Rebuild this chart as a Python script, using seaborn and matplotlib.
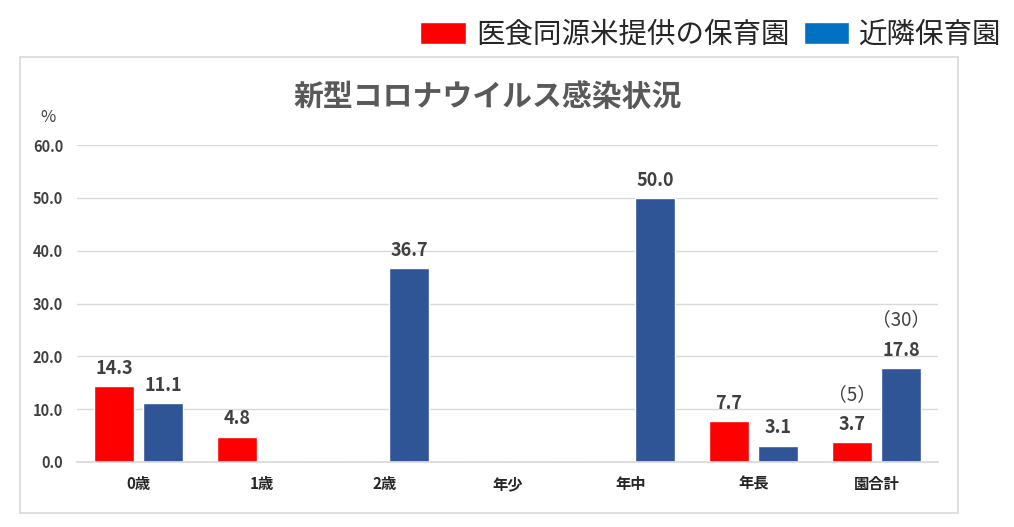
import numpy as np
import pandas as pd
import seaborn as sns
import matplotlib.pyplot as plt
from matplotlib.patches import Patch, Rectangle

# データ
categories = ['0歳', '1歳', '2歳', '年少', '年中', '年長', '園合計']
series_names = ['医食同源米提供の保育園', '近隣保育園']
ishoku = [14.3, 4.8, 0, 0, 0, 7.7, 3.7]
kinrin = [11.1, 0, 36.7, 0, 50.0, 3.1, 17.8]
ishoku_lbl = ['14.3', '4.8', '', '', '', '7.7', '3.7']
kinrin_lbl = ['11.1', '', '36.7', '', '50.0', '3.1', '17.8']
counts = {0: '（5）', 1: '（30）'}  # 園合計の上の人数
y_ticks = [0, 10, 20, 30, 40, 50, 60]

sns.set_theme(style='white')
plt.rcParams['font.family'] = ['Noto Sans CJK JP', 'DejaVu Sans']

df = pd.DataFrame({
    'cat': categories * 2,
    'val': ishoku + kinrin,
    'grp': [series_names[0]] * 7 + [series_names[1]] * 7,
})

fig = plt.figure(figsize=(10.14, 5.27), dpi=100)
ax = fig.add_axes([77 / 1014, 1 - 462 / 527, 861 / 1014, 317 / 527])

sns.barplot(data=df, x='cat', y='val', hue='grp', order=categories,
            palette=['#FF0000', '#2F5597'], width=0.8, gap=0.2,
            legend=False, ax=ax, saturation=1)

ax.set_ylim(0, 60)
ax.set_xlim(-0.5, 6.5)
ax.set_yticks(y_ticks)
ax.set_yticklabels([f'{t:.1f}' for t in y_ticks])
ax.set_xlabel('')
ax.set_ylabel('')
ax.grid(axis='y', color='#D9D9D9', linewidth=1)
ax.set_axisbelow(True)
for s in ['top', 'right', 'left']:
    ax.spines[s].set_visible(False)
ax.spines['bottom'].set_color('#D9D9D9')
ax.tick_params(axis='y', length=0, labelcolor='#404040', labelsize=10.5, pad=10)
ax.tick_params(axis='x', length=0, labelcolor='#262626', labelsize=11, pad=10)
for lab in ax.get_xticklabels() + ax.get_yticklabels():
    lab.set_fontweight('bold')

# 値ラベル
for cont, lbls in zip(ax.containers, [ishoku_lbl, kinrin_lbl]):
    ax.bar_label(cont, labels=lbls, padding=6, fontsize=13,
                 fontweight='bold', color='#404040')

# 人数
for i, txt in counts.items():
    bar = ax.containers[i][6]
    x = bar.get_x() + bar.get_width() / 2
    ax.annotate(txt, (x, bar.get_height()), xytext=(0, 27),
                textcoords='offset points', ha='center', va='bottom',
                fontsize=13.5, color='#404040')

# 枠・タイトル・単位
fig.patches.append(Rectangle((20 / 1014, 1 - 513 / 527), 938 / 1014, 456 / 527,
                             transform=fig.transFigure, fill=False,
                             edgecolor='#D9D9D9', linewidth=1.2))
fig.text(488 / 1014, 1 - 97 / 527, '新型コロナウイルス感染状況', ha='center',
         va='center', fontsize=21.5, fontweight='bold', color='#595959')
fig.text(48 / 1014, 1 - 117 / 527, '%', ha='center', va='center',
         fontsize=12, color='#404040')

handles = [Patch(facecolor='#FF0000'), Patch(facecolor='#0070C0')]
fig.legend(handles, series_names, loc='center right',
           bbox_to_anchor=(1013 / 1014, 1 - 35 / 527), ncol=2, frameon=False,
           fontsize=20.5, handlelength=1.6, handleheight=0.85,
           handletextpad=0.35, columnspacing=0.5, borderaxespad=0)

plt.savefig('out.png', dpi=100)
